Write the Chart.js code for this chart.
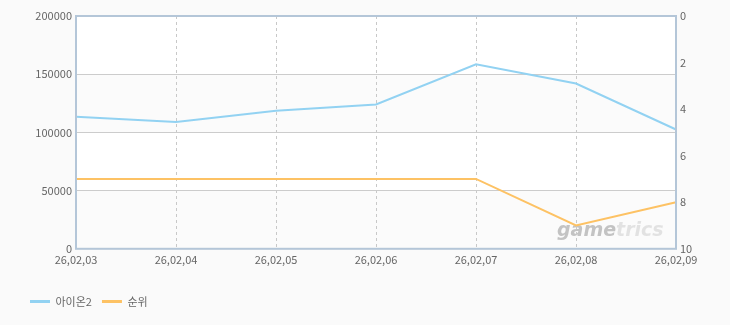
<!DOCTYPE html>
<html>
<head>
<meta charset="utf-8">
<script src="https://cdn.jsdelivr.net/npm/chart.js@4.4.0/dist/chart.umd.min.js"></script>
<style>
  html, body { margin: 0; padding: 0; background: #fafafa; }
  #wrap { width: 730px; height: 325px; }
</style>
</head>
<body>
<div id="wrap"><canvas id="myChart" width="730" height="325"></canvas></div>
<script>
// data
var dates = ['26,02,03', '26,02,04', '26,02,05', '26,02,06', '26,02,07', '26,02,08', '26,02,09'];
var aion2 = [113500, 109000, 118500, 124000, 158500, 142000, 102500];
var rank = [7, 7, 7, 7, 7, 9, 8];
var leftTicks = [0, 50000, 100000, 150000, 200000];
var rightTicks = [0, 2, 4, 6, 8, 10];

var FONT = "'Noto Sans CJK KR', 'DejaVu Sans', sans-serif";

// white / light grey bands + blue frame + watermark
var plotDeco = {
    id: 'plotDeco',
    beforeDraw: function (chart) {
        var c = chart.ctx, a = chart.chartArea, y = chart.scales.y;
        c.save();
        c.fillStyle = '#ffffff';
        c.fillRect(a.left, a.top, a.right - a.left, a.bottom - a.top);
        c.fillStyle = '#fbfbfb';
        for (var i = 0; i < leftTicks.length - 1; i += 2) {
            var y0 = y.getPixelForValue(leftTicks[i]);
            var y1 = y.getPixelForValue(leftTicks[i + 1]);
            c.fillRect(a.left, y1, a.right - a.left, y0 - y1);
        }
        // watermark
        c.font = "italic bold 19px 'DejaVu Sans', sans-serif";
        c.textBaseline = 'alphabetic';
        c.fillStyle = 'rgba(150,150,150,0.55)';
        c.fillText('game', 557, 236);
        var w = c.measureText('game').width;
        c.fillStyle = 'rgba(190,190,190,0.4)';
        c.fillText('trics', 557 + w, 236);
        c.restore();
    },
    afterDatasetsDraw: function (chart) {
        var c = chart.ctx, a = chart.chartArea;
        c.save();
        c.strokeStyle = '#b4c6d8';
        c.lineWidth = 2;
        c.strokeRect(a.left, a.top, a.right - a.left, a.bottom - a.top);
        c.restore();
    }
};

var ctx = document.getElementById('myChart').getContext('2d');

var myChart = new Chart(ctx, {
    type: 'line',
    data: {
        labels: dates,
        datasets: [{
            label: '아이온2',
            data: aion2,
            yAxisID: 'y',
            borderColor: '#92d2f2',
            backgroundColor: '#92d2f2',
            borderWidth: 2,
            pointRadius: 0,
            tension: 0
        }, {
            label: '순위',
            data: rank,
            yAxisID: 'y1',
            borderColor: '#fdc264',
            backgroundColor: '#fdc264',
            borderWidth: 2,
            pointRadius: 0,
            tension: 0
        }]
    },
    options: {
        responsive: false,
        animation: false,
        layout: { padding: { left: 20, right: 0, top: 16, bottom: 8 } },
        plugins: {
            tooltip: { enabled: false },
            legend: {
                position: 'bottom',
                align: 'start',
                labels: {
                    boxWidth: 20,
                    boxHeight: 3,
                    padding: 10,
                    color: '#666',
                    font: { family: FONT, size: 11 },
                    generateLabels: function (chart) {
                        var items = Chart.defaults.plugins.legend.labels.generateLabels(chart);
                        items.forEach(function (it) { it.lineWidth = 0; });
                        return items;
                    }
                }
            }
        },
        scales: {
            x: {
                offset: false,
                grid: {
                    color: '#c8c8c8',
                    drawTicks: false
                },
                border: { display: false, dash: [3, 3] },
                ticks: {
                    color: '#666',
                    font: { family: FONT, size: 11 },
                    padding: 4,
                    maxRotation: 0,
                    autoSkip: false
                },
                afterFit: function (axis) { axis.height += 16; }
            },
            y: {
                position: 'left',
                min: 0,
                max: 200000,
                afterBuildTicks: function (axis) {
                    axis.ticks = leftTicks.map(function (v) { return { value: v }; });
                },
                grid: { color: '#cccccc', drawTicks: false },
                border: { display: false },
                ticks: {
                    color: '#666',
                    font: { family: FONT, size: 11 },
                    padding: 4,
                    callback: function (v) { return String(v); }
                },
                afterFit: function (axis) { axis.width = 56; }
            },
            y1: {
                position: 'right',
                reverse: true,
                min: 0,
                max: 10,
                afterBuildTicks: function (axis) {
                    axis.ticks = rightTicks.map(function (v) { return { value: v }; });
                },
                grid: { display: false, drawTicks: false },
                border: { display: false },
                ticks: {
                    color: '#666',
                    font: { family: FONT, size: 11 },
                    padding: 4,
                    callback: function (v) { return String(v); }
                },
                afterFit: function (axis) { axis.width = 54; }
            }
        }
    },
    plugins: [plotDeco]
});
</script>
</body>
</html>
